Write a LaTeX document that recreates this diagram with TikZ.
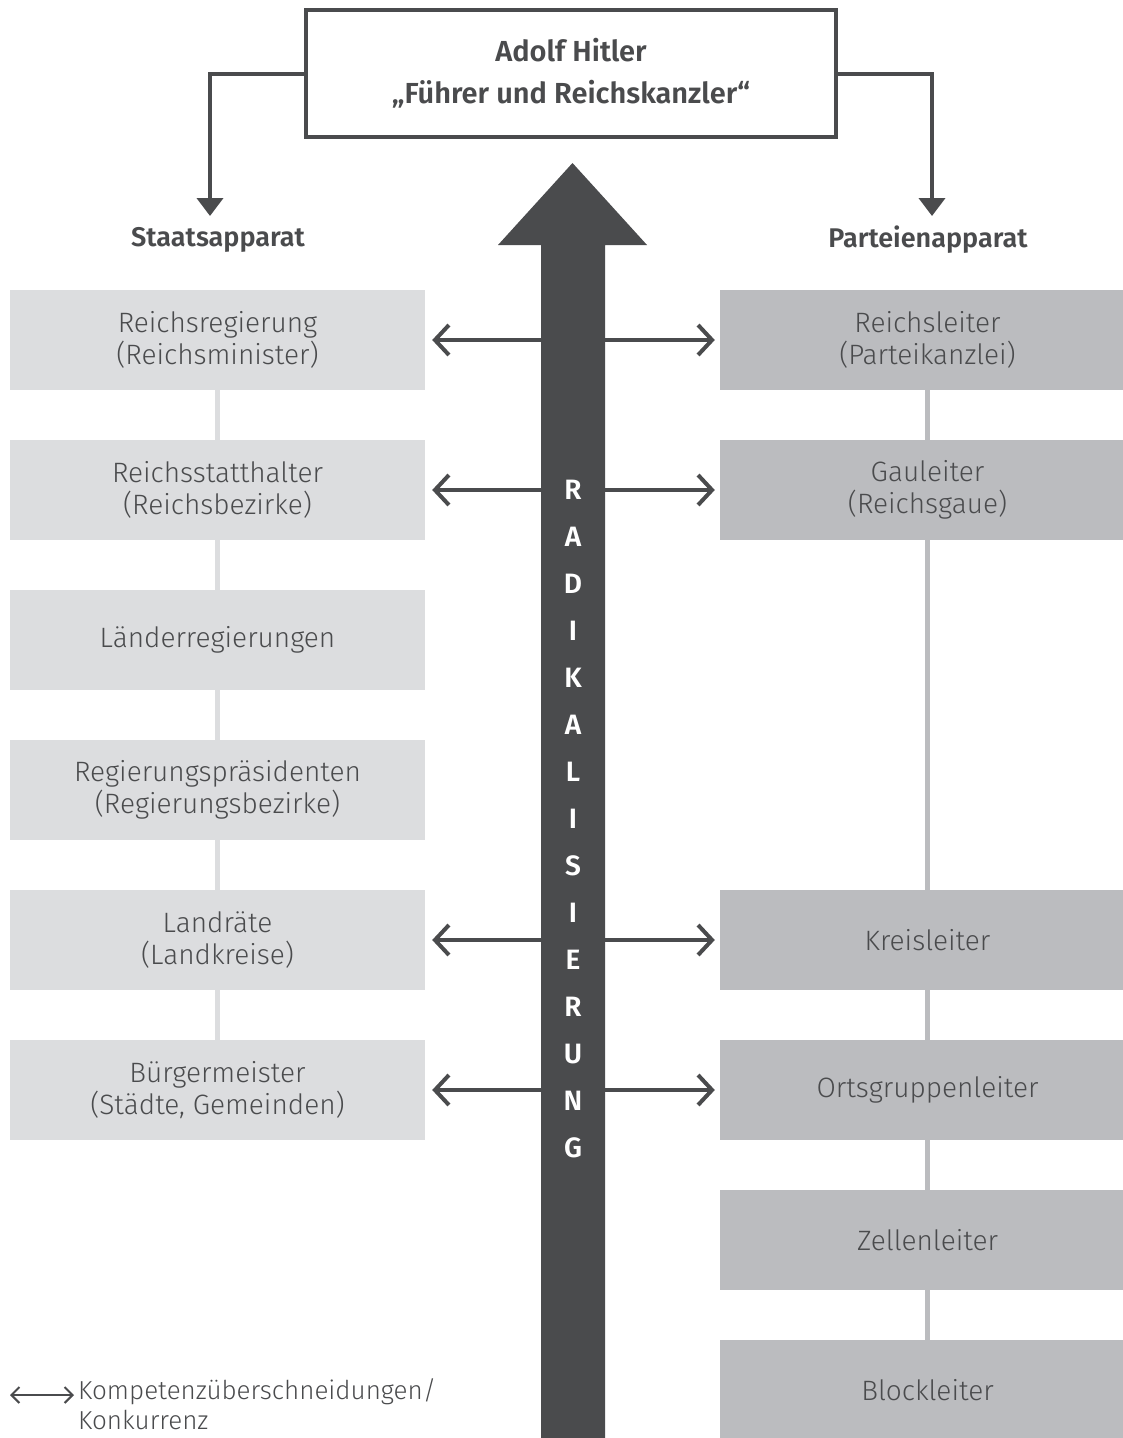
\documentclass[tikz,border=0pt]{standalone}
\usepackage{fontspec}
\setmainfont{Fira Sans Light}[BoldFont=Fira Sans SemiBold]
\usetikzlibrary{trees,shapes,arrows,arrows.meta,matrix}

\definecolor{dunkelgrau}{HTML}{4A4B4D}
\definecolor{staatgrau}{HTML}{DCDDDF}
\definecolor{parteigrau}{HTML}{BBBCBF}

\begin{document}
\begin{tikzpicture}[x=1pt,y=-1pt]
\tikzstyle{every node}=[font=\fontsize{28}{32}\selectfont,text=dunkelgrau,align=center,inner sep=0pt]
\tikzstyle{staat}=[rectangle,fill=staatgrau,minimum width=415pt,minimum height=100pt]
\tikzstyle{partei}=[staat,fill=parteigrau]
\tikzstyle{kopf}=[font=\fontsize{27}{32}\bfseries\selectfont]
\tikzstyle{linie staat}=[draw=staatgrau,line width=5pt]
\tikzstyle{linie partei}=[draw=parteigrau,line width=5pt]
\tikzstyle{befehl}=[draw=dunkelgrau,line width=4pt,-{Triangle[length=18pt,width=26pt]}]
\tikzstyle{konkurrenz}=[draw=dunkelgrau,line width=4pt,{Straight Barb[length=14pt,width=30pt]}-{Straight Barb[length=14pt,width=30pt]}]
\tikzstyle{buchstabe}=[text=white,font=\fontsize{28}{32}\bfseries\selectfont]
\clip (0,0) rectangle (1123,1438);
\useasboundingbox (0,0) rectangle (1123,1438);

% Fuehrer
\node[draw=dunkelgrau,line width=4pt,fill=white,minimum width=530pt,minimum height=127pt,
      font=\fontsize{29}{42}\bfseries\selectfont] (hitler) at (571,73.5)
  {Adolf Hitler\\„Führer und Reichskanzler“};
\coordinate (staatspitze) at (210,216);
\coordinate (parteispitze) at (932,216);
\draw[befehl] (hitler.west) -| (staatspitze);
\draw[befehl] (hitler.east) -| (parteispitze);
\node[kopf] (staatsapparat) at (218,240) {Staatsapparat};
\node[kopf] (parteienapparat) at (928,240) {Parteienapparat};

% Staatsapparat
\node[staat] (s1) at (217.5,340) {Reichsregierung\\(Reichsminister)};
\node[staat] (s2) at (217.5,490) {Reichsstatthalter\\(Reichsbezirke)};
\node[staat] (s3) at (217.5,640) {Länderregierungen};
\node[staat] (s4) at (217.5,790) {Regierungspräsidenten\\(Regierungsbezirke)};
\node[staat] (s5) at (217.5,940) {Landräte\\(Landkreise)};
\node[staat] (s6) at (217.5,1090) {Bürgermeister\\(Städte, Gemeinden)};
\foreach \a/\b in {s1/s2,s2/s3,s3/s4,s4/s5,s5/s6}
  \draw[linie staat] (\a.south) -- (\b.north);

% Parteienapparat
\node[partei] (p1) at (927.5,340) {Reichsleiter\\(Parteikanzlei)};
\node[partei] (p2) at (927.5,490) {Gauleiter\\(Reichsgaue)};
\node[partei] (p3) at (927.5,940) {Kreisleiter};
\node[partei] (p4) at (927.5,1090) {Ortsgruppenleiter};
\node[partei] (p5) at (927.5,1240) {Zellenleiter};
\node[partei] (p6) at (927.5,1390) {Blockleiter};
\foreach \a/\b in {p1/p2,p2/p3,p3/p4,p4/p5,p5/p6}
  \draw[linie partei] (\a.south) -- (\b.north);

% Kompetenzen
\foreach \a/\b in {s1/p1,s2/p2,s5/p3,s6/p4}
  \draw[konkurrenz,shorten <=7pt,shorten >=5pt] (\a.east) -- (\b.west);

% Radikalisierung
\fill[dunkelgrau] (541,1445) -- (541,245) -- (498,245) -- (572.5,163) -- (647,245)
  -- (605,245) -- (605,1445) -- cycle;
\foreach \b [count=\i] in {R,A,D,I,K,A,L,I,S,I,E,R,U,N,G}
  \node[buchstabe] (r\i) at (573,{490+47*(\i-1)}) {\b};

% Legende
\coordinate (legende) at (10,1395);
\node[align=left,anchor=north west,font=\fontsize{26}{30}\selectfont] (legendtext) at (78,1378)
  {Kompetenzüberschneidungen/\\Konkurrenz};
\draw[draw=dunkelgrau,line width=2pt,shorten >=4pt,{Straight Barb[length=8pt,width=16pt]}-{Straight Barb[length=8pt,width=16pt]}]
  (legende) -- (legende -| legendtext.west);
\end{tikzpicture}
\end{document}
